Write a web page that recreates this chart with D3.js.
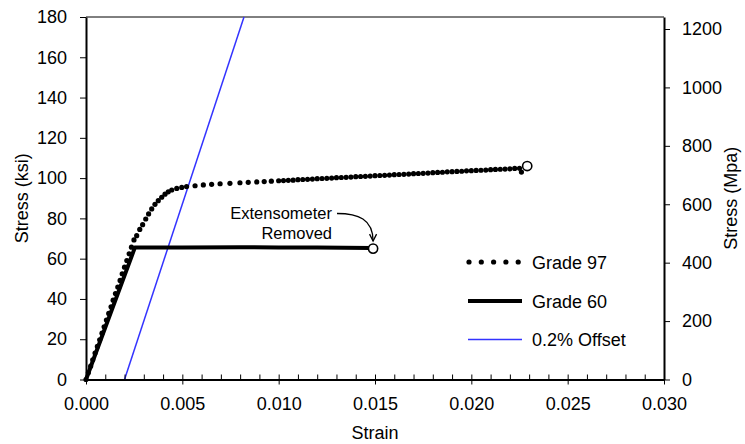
<!DOCTYPE html>
<html>
<head>
<meta charset="utf-8">
<script src="https://cdn.jsdelivr.net/npm/d3@7"></script>
<style>
  body { margin: 0; background: #fff; }
</style>
</head>
<body>
<div id="chart"></div>
<script>
const w = 745;
const h = 444;
// no serif face in the sandbox, Liberation Sans at a smaller size keeps Times widths
const font = 'Liberation Sans, Arial, sans-serif';

// Grade 97 test points (strain, ksi)
const g97Strain = [
  0, 0.00012, 0.00024, 0.00035, 0.00047, 0.00059, 0.00071, 0.00083, 0.00094, 0.00106,
  0.00118, 0.00130, 0.00141, 0.00153, 0.00165, 0.00177, 0.00188, 0.00200, 0.00212, 0.00224,
  0.00236, 0.00249, 0.00263, 0.00279, 0.00294, 0.00310, 0.00325, 0.00341, 0.00358, 0.00375,
  0.00393, 0.00410, 0.00427, 0.00445, 0.00471, 0.00497, 0.00522, 0.00566, 0.00609, 0.00652,
  0.00696, 0.00747, 0.00799, 0.00842, 0.00886, 0.00925, 0.00962, 0.01000, 0.01025, 0.01050,
  0.01075, 0.01100, 0.01125, 0.01150, 0.01175, 0.01200, 0.01225, 0.01250, 0.01275, 0.01300,
  0.01325, 0.01350, 0.01375, 0.01400, 0.01425, 0.01450, 0.01475, 0.01500, 0.01525, 0.01550,
  0.01575, 0.01600, 0.01625, 0.01650, 0.01675, 0.01700, 0.01725, 0.01750, 0.01775, 0.01800,
  0.01825, 0.01850, 0.01875, 0.01900, 0.01925, 0.01950, 0.01975, 0.02000, 0.02025, 0.02050,
  0.02075, 0.02100, 0.02125, 0.02150, 0.02175, 0.02200, 0.02225, 0.02250, 0.02260
];
const g97Stress = [
  0, 3.3, 6.6, 9.8, 13.1, 16.4, 19.7, 23.0, 26.2, 29.5,
  32.8, 36.1, 39.4, 42.7, 45.9, 49.2, 52.5, 55.8, 59.1, 62.4,
  65.7, 69.3, 71.4, 74.5, 76.9, 79.7, 82.2, 84.7, 87.0, 88.8,
  90.5, 92.0, 93.2, 94.1, 94.9, 95.4, 95.8, 96.2, 96.6, 96.9,
  97.2, 97.4, 97.7, 97.9, 98.1, 98.3, 98.5, 98.7, 98.8, 98.9,
  99.0, 99.2, 99.3, 99.4, 99.5, 99.7, 99.8, 99.9, 100.0, 100.2,
  100.3, 100.4, 100.5, 100.7, 100.8, 100.9, 101.0, 101.2, 101.3, 101.4,
  101.5, 101.7, 101.8, 101.9, 102.0, 102.2, 102.3, 102.4, 102.5, 102.7,
  102.8, 102.9, 103.1, 103.2, 103.3, 103.4, 103.6, 103.7, 103.8, 103.9,
  104.0, 104.2, 104.3, 104.4, 104.5, 104.6, 104.8, 104.9, 103.0
];

// Grade 60
const g60Strain = [0, 0.00254, 0.0030, 0.0050, 0.0080, 0.0100, 0.0120, 0.0148];
const g60Stress = [0, 65.6, 65.6, 65.5, 65.7, 65.5, 65.6, 65.3];

// 0.2% offset line
const offStrain = [0.002, 0.0082];
const offStress = [0, 180];

// open circles at end of test (Grade 60, Grade 97)
const endStrain = [0.0149, 0.0229];
const endStress = [65.0, 106.0];

const xTicks = [0, 0.005, 0.010, 0.015, 0.020, 0.025, 0.030];
const xMinor = d3.range(0, 31).map(i => i / 1000);
const yTicks = [0, 20, 40, 60, 80, 100, 120, 140, 160, 180];
const mpaTicks = [0, 200, 400, 600, 800, 1000, 1200];
const ksiToMpa = 6.895;

const legendNames = ['Grade 97', 'Grade 60', '0.2% Offset'];

const xScale = d3.scaleLinear().domain([0, 0.03]).range([86, 664]);
const yScale = d3.scaleLinear().domain([0, 180]).range([379.5, 17]);
const mpaScale = d3.scaleLinear().domain([0, 180 * ksiToMpa]).range([379.5, 17]);

const svg = d3.select('#chart')
  .append('svg')
  .attr('width', w)
  .attr('height', h);

svg.append('rect').attr('width', w).attr('height', h).attr('fill', '#fff');

//top border
svg.append('line')
  .attr('x1', xScale(0)).attr('x2', xScale(0.03))
  .attr('y1', yScale(180)).attr('y2', yScale(180))
  .attr('stroke', '#000').attr('stroke-width', 1);

// offset line
svg.append('path')
  .datum(d3.zip(offStrain, offStress))
  .attr('fill', 'none')
  .attr('stroke', '#3333ff')
  .attr('stroke-width', 1.5)
  .attr('d', d3.line().x(d => xScale(d[0])).y(d => yScale(d[1])));

// grade 60 line
svg.append('path')
  .datum(d3.zip(g60Strain, g60Stress))
  .attr('fill', 'none')
  .attr('stroke', '#000')
  .attr('stroke-width', 4)
  .attr('stroke-linejoin', 'round')
  .attr('d', d3.line().x(d => xScale(d[0])).y(d => yScale(d[1])));

// grade 97 dots
svg.selectAll('circle.g97')
  .data(d3.zip(g97Strain, g97Stress))
  .enter()
  .append('circle')
  .attr('class', 'g97')
  .attr('cx', d => xScale(d[0]))
  .attr('cy', d => yScale(d[1]))
  .attr('r', 2.6)
  .attr('fill', '#000');

// end markers
svg.selectAll('circle.end')
  .data(d3.zip(endStrain, endStress))
  .enter()
  .append('circle')
  .attr('class', 'end')
  .attr('cx', d => xScale(d[0]))
  .attr('cy', d => yScale(d[1]))
  .attr('r', 4.6)
  .attr('fill', '#fff')
  .attr('stroke', '#000')
  .attr('stroke-width', 1.6);

//x-axis
const xAxis = svg.append('g')
  .attr('transform', 'translate(0,' + yScale(0) + ')')
  .call(d3.axisBottom(xScale).tickValues(xTicks).tickFormat(d3.format('.3f'))
    .tickSize(5).tickSizeOuter(0).tickPadding(13));
svg.append('g')
  .attr('transform', 'translate(0,' + yScale(0) + ')')
  .call(d3.axisTop(xScale).tickValues(xMinor).tickFormat('').tickSize(5).tickSizeOuter(0))
  .call(g => g.select('.domain').remove());

//y-axis left
const yAxis = svg.append('g')
  .attr('transform', 'translate(' + xScale(0) + ',0)')
  .call(d3.axisLeft(yScale).tickValues(yTicks).tickFormat(d3.format('d'))
    .tickSize(6).tickSizeOuter(0).tickPadding(13));

//y-axis right
const mAxis = svg.append('g')
  .attr('transform', 'translate(' + xScale(0.03) + ',0)')
  .call(d3.axisRight(mpaScale).tickValues(mpaTicks).tickFormat(d3.format('d'))
    .tickSize(6).tickSizeOuter(0).tickPadding(12));

[xAxis, yAxis, mAxis].forEach(g => {
  g.attr('font-family', null).attr('font-size', null);
  g.select('.domain').attr('stroke-width', 2);
  g.selectAll('text').attr('fill', '#000')
    .style('font-family', font).style('font-size', '18px');
});
svg.selectAll('.tick line').attr('stroke-width', 1);

//axis labels
svg.append('text')
  .attr('x', (xScale(0) + xScale(0.03)) / 2)
  .attr('y', 439)
  .attr('text-anchor', 'middle')
  .style('font-family', font)
  .style('font-size', '18px')
  .text('Strain');

svg.append('text')
  .attr('text-anchor', 'middle')
  .attr('transform', 'translate(28,' + yScale(90) + ')rotate(-90)')
  .style('font-family', font)
  .style('font-size', '18px')
  .text('Stress (ksi)');

svg.append('text')
  .attr('text-anchor', 'middle')
  .attr('transform', 'translate(737,' + yScale(90) + ')rotate(-90)')
  .style('font-family', font)
  .style('font-size', '18px')
  .text('Stress (Mpa)');

//annotation
const tipX = xScale(endStrain[0]);
const tipY = yScale(endStress[0]) - 7.5;
svg.append('text')
  .attr('x', 332).attr('y', 219)
  .attr('text-anchor', 'end')
  .style('font-family', font)
  .style('font-size', '16.5px')
  .text('Extensometer');
svg.append('text')
  .attr('x', 332).attr('y', 239)
  .attr('text-anchor', 'end')
  .style('font-family', font)
  .style('font-size', '16.5px')
  .text('Removed');
svg.append('path')
  .attr('fill', 'none')
  .attr('stroke', '#000')
  .attr('stroke-width', 1.3)
  .attr('d', 'M337,213.5 C358,213.5 ' + tipX + ',219 ' + tipX + ',' + tipY);
svg.append('path')
  .attr('fill', 'none')
  .attr('stroke', '#000')
  .attr('stroke-width', 1.3)
  .attr('d', 'M' + (tipX - 3.5) + ',' + (tipY - 7) + ' L' + tipX + ',' + tipY + ' L' + (tipX + 3.5) + ',' + (tipY - 7));

//legend
const legend = svg.append('g');
const legY = [262, 301, 339.5];
d3.range(5).forEach(i => {
  legend.append('circle')
    .attr('cx', 469 + i * 12.3)
    .attr('cy', legY[0])
    .attr('r', 2.6)
    .attr('fill', '#000');
});
legend.append('line')
  .attr('x1', 468).attr('x2', 522)
  .attr('y1', legY[1]).attr('y2', legY[1])
  .attr('stroke', '#000').attr('stroke-width', 4);
legend.append('line')
  .attr('x1', 468).attr('x2', 522)
  .attr('y1', legY[2]).attr('y2', legY[2])
  .attr('stroke', '#3333ff').attr('stroke-width', 1.5);
legend.selectAll('text')
  .data(legendNames)
  .enter()
  .append('text')
  .attr('x', 532)
  .attr('y', (d, i) => legY[i] + 6.5)
  .style('font-family', font)
  .style('font-size', '18px')
  .text(d => d);
</script>
</body>
</html>
